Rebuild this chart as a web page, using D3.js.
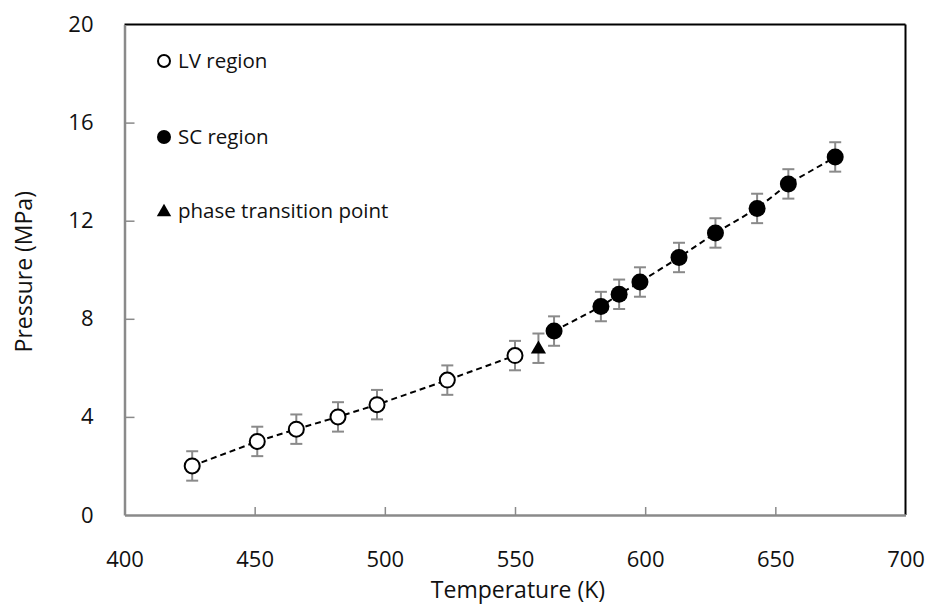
<!DOCTYPE html>
<html>
<head>
<meta charset="utf-8">
<script src="https://cdn.jsdelivr.net/npm/d3@7"></script>
<style>
  html, body { margin: 0; padding: 0; background: #fff; }
  svg text { font-family: "Open Sans", "Noto Sans", sans-serif; fill: #111; }
</style>
</head>
<body>
<svg id="chart" width="928" height="605"></svg>
<script>
// Liquid–vapour region measurements
const lvTemp = [426, 451, 466, 482, 497, 524, 550];
const lvPres = [2.0, 3.0, 3.5, 4.0, 4.5, 5.5, 6.5];

// Supercritical region measurements
const scTemp = [565, 583, 590, 598, 613, 627, 643, 655, 673];
const scPres = [7.5, 8.5, 9.0, 9.5, 10.5, 11.5, 12.5, 13.5, 14.6];

// Phase transition point
const ptTemp = [559];
const ptPres = [6.8];

// Uncertainty on every pressure reading (MPa)
const presErr = 0.6;

const xTicks = [400, 450, 500, 550, 600, 650, 700];
const yTicks = [0, 4, 8, 12, 16, 20];

const legendLabels = ["LV region", "SC region", "phase transition point"];

const svg = d3.select("#chart");
const plotL = 124.5, plotR = 905.5, plotT = 24.5, plotB = 515;

const x = d3.scaleLinear().domain([400, 700]).range([plotL, plotR]);
const y = d3.scaleLinear().domain([0, 20]).range([plotB, plotT]);

const axisGrey = "#8a8a8a";
const tickFont = 22;
const titleFont = 23;

// Frame: top and right edges in black
svg.append("line").attr("x1", plotL).attr("x2", plotR).attr("y1", plotT).attr("y2", plotT)
  .attr("stroke", "#000").attr("stroke-width", 2);
svg.append("line").attr("x1", plotR).attr("x2", plotR).attr("y1", plotT).attr("y2", plotB)
  .attr("stroke", "#000").attr("stroke-width", 2);

// X axis
const xAxis = svg.append("g").attr("transform", `translate(0,${plotB})`)
  .call(d3.axisBottom(x).tickValues(xTicks).tickSize(-8).tickPadding(36).tickSizeOuter(0));
xAxis.select(".domain").attr("stroke", axisGrey).attr("stroke-width", 2.5);
xAxis.selectAll(".tick line").attr("stroke", axisGrey).attr("stroke-width", 1.5)
  .filter(d => d === 400 || d === 700).remove();
xAxis.selectAll(".tick text").attr("font-size", tickFont).attr("fill", "#111")
  .attr("font-family", "Open Sans, Noto Sans, sans-serif");

// Y axis
const yAxis = svg.append("g").attr("transform", `translate(${plotL},0)`)
  .call(d3.axisLeft(y).tickValues(yTicks).tickSize(-10).tickPadding(31).tickSizeOuter(0));
yAxis.select(".domain").attr("stroke", axisGrey).attr("stroke-width", 2.5);
yAxis.selectAll(".tick line").attr("stroke", axisGrey).attr("stroke-width", 1.5)
  .filter(d => d === 0 || d === 20).remove();
yAxis.selectAll(".tick text").attr("font-size", tickFont).attr("fill", "#111")
  .attr("font-family", "Open Sans, Noto Sans, sans-serif");

// Axis titles
svg.append("text").attr("x", 518).attr("y", 598)
  .attr("text-anchor", "middle").attr("font-size", titleFont).text("Temperature (K)");
svg.append("text").attr("transform", `translate(32,${(plotT + plotB) / 2 + 2}) rotate(-90)`)
  .attr("text-anchor", "middle").attr("font-size", titleFont).text("Pressure (MPa)");

// Dashed trend lines, one per region
const line = d3.line().x(d => x(d[0])).y(d => y(d[1]));
const lvPts = lvTemp.map((t, i) => [t, lvPres[i]]);
const scPts = scTemp.map((t, i) => [t, scPres[i]]);
const ptPts = ptTemp.map((t, i) => [t, ptPres[i]]);

[lvPts, scPts].forEach(pts => {
  svg.append("path").datum(pts).attr("d", line)
    .attr("fill", "none").attr("stroke", "#000").attr("stroke-width", 2)
    .attr("stroke-dasharray", "6,4");
});

// Error bars
const allPts = lvPts.concat(ptPts, scPts);
const eb = svg.append("g").attr("stroke", axisGrey).attr("stroke-width", 2);
allPts.forEach(([t, p]) => {
  const cx = x(t), y0 = y(p - presErr), y1 = y(p + presErr);
  eb.append("line").attr("x1", cx).attr("x2", cx).attr("y1", y0).attr("y2", y1);
  eb.append("line").attr("x1", cx - 6).attr("x2", cx + 6).attr("y1", y0).attr("y2", y0);
  eb.append("line").attr("x1", cx - 6).attr("x2", cx + 6).attr("y1", y1).attr("y2", y1);
});

// Markers
svg.append("g").selectAll("circle").data(lvPts).join("circle")
  .attr("cx", d => x(d[0])).attr("cy", d => y(d[1])).attr("r", 7.5)
  .attr("fill", "#fff").attr("stroke", "#000").attr("stroke-width", 2);
svg.append("g").selectAll("circle").data(scPts).join("circle")
  .attr("cx", d => x(d[0])).attr("cy", d => y(d[1])).attr("r", 8.5)
  .attr("fill", "#000");
const tri = d3.symbol().type(d3.symbolTriangle).size(100);
svg.append("g").selectAll("path").data(ptPts).join("path")
  .attr("transform", d => `translate(${x(d[0])},${y(d[1]) + 1})`)
  .attr("d", tri).attr("fill", "#000");

// Legend
const lg = svg.append("g");
const legendY = [61, 137, 211];
lg.append("circle").attr("cx", 164).attr("cy", legendY[0]).attr("r", 6)
  .attr("fill", "#fff").attr("stroke", "#000").attr("stroke-width", 2);
lg.append("circle").attr("cx", 164).attr("cy", legendY[1]).attr("r", 7).attr("fill", "#000");
lg.append("path").attr("transform", `translate(164,${legendY[2] + 1})`)
  .attr("d", d3.symbol().type(d3.symbolTriangle).size(90)).attr("fill", "#000");
legendLabels.forEach((s, i) => {
  lg.append("text").attr("x", 178).attr("y", legendY[i]).attr("dy", "0.35em")
    .attr("font-size", 20.5).text(s);
});
</script>
</body>
</html>
